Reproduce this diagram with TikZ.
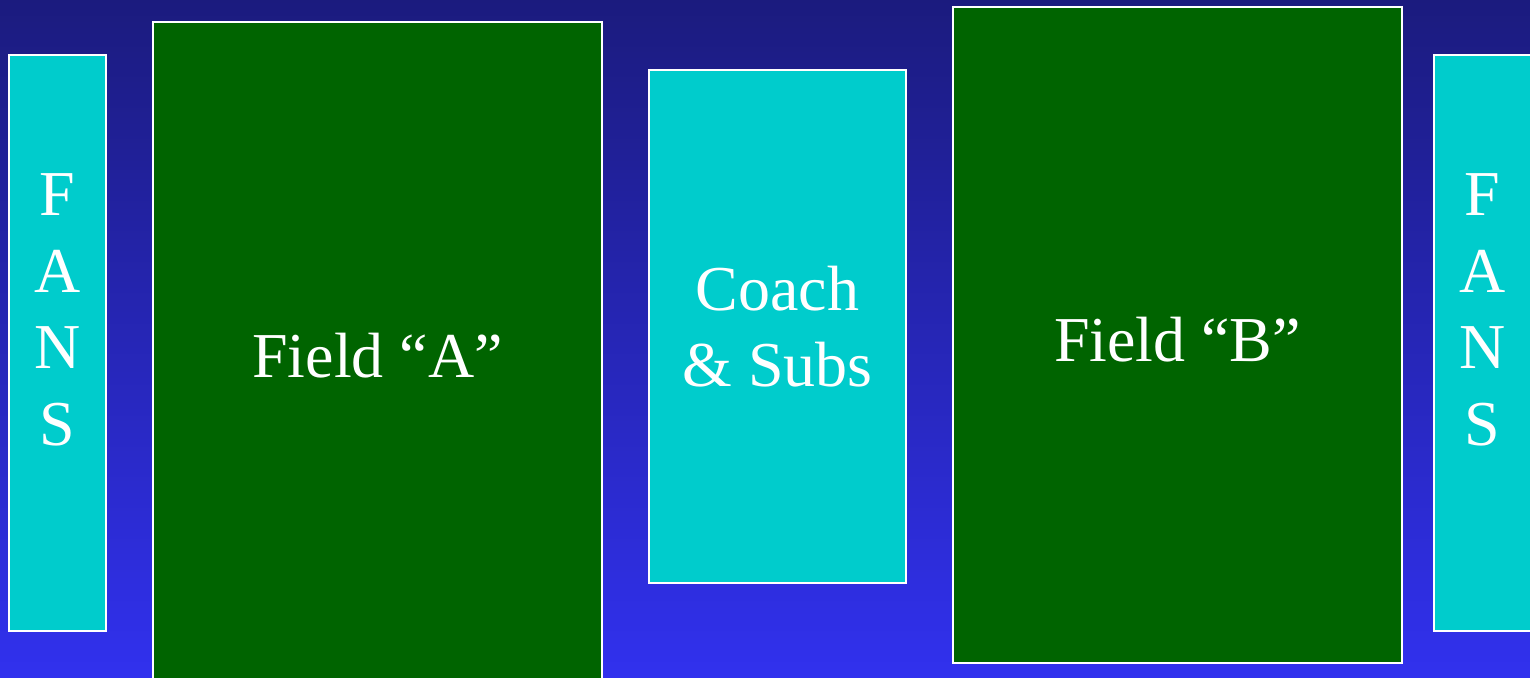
\documentclass[tikz,border=0pt]{standalone}
\usepackage{fontspec}
\setmainfont{Liberation Serif}
\usepackage{xcolor}
\usepackage{tikz}
\usetikzlibrary{positioning, calc}
\definecolor{skytop}{RGB}{27,27,126}
\definecolor{skybottom}{RGB}{49,49,238}
\definecolor{grass}{RGB}{0,100,0}
\definecolor{bench}{RGB}{0,204,204}

\tikzset{
	area/.style={draw=white, line width=0.7pt, inner sep=0pt, align=center, text=white,
		font=\fontsize{18.2}{21.8}\selectfont},
	areatext/.style={align=center, text=white, inner sep=0pt, font=\fontsize{18.2}{21.8}\selectfont},
	fansbox/.style={area, fill=bench, minimum width=0.97cm, minimum height=5.76cm},
	fieldbox/.style={area, fill=grass, minimum width=4.49cm},
	coachbox/.style={area, fill=bench, minimum width=2.57cm, minimum height=5.13cm}
}

\begin{document}
\begin{tikzpicture}
		\pgfmathsetmacro{\picw}{15.3}
		\pgfmathsetmacro{\pich}{6.77}
		\useasboundingbox (0,0) rectangle (\picw,-\pich);
		\shade[top color=skytop, bottom color=skybottom] (0,0) rectangle (\picw,-\pich);
		% fans on both sides
		\node[fansbox] (fansL) at (0.575,-3.43) {};
		\node[fansbox] (fansR) at (14.825,-3.43) {};
		\node[areatext] (fansLtext) at ([yshift=0.33cm]fansL.center) {F\\A\\N\\S};
		\node[areatext] (fansRtext) at ([yshift=0.33cm]fansR.center) {F\\A\\N\\S};
		% the two fields
		\node[fieldbox, minimum height=6.74cm] (fieldA) at (3.775,-3.59) {};
		\node[fieldbox, minimum height=6.56cm] (fieldB) at (11.775,-3.35) {};
		\node[areatext] (fieldAtext) at ([yshift=0.03cm]fieldA.center) {Field “A”};
		\node[areatext] (fieldBtext) at ([yshift=-0.05cm]fieldB.center) {Field “B”};
		% bench in between
		\node[coachbox] (coach) at (7.775,-3.265) {Coach\\\& Subs};
		\end{tikzpicture}
\end{document}
